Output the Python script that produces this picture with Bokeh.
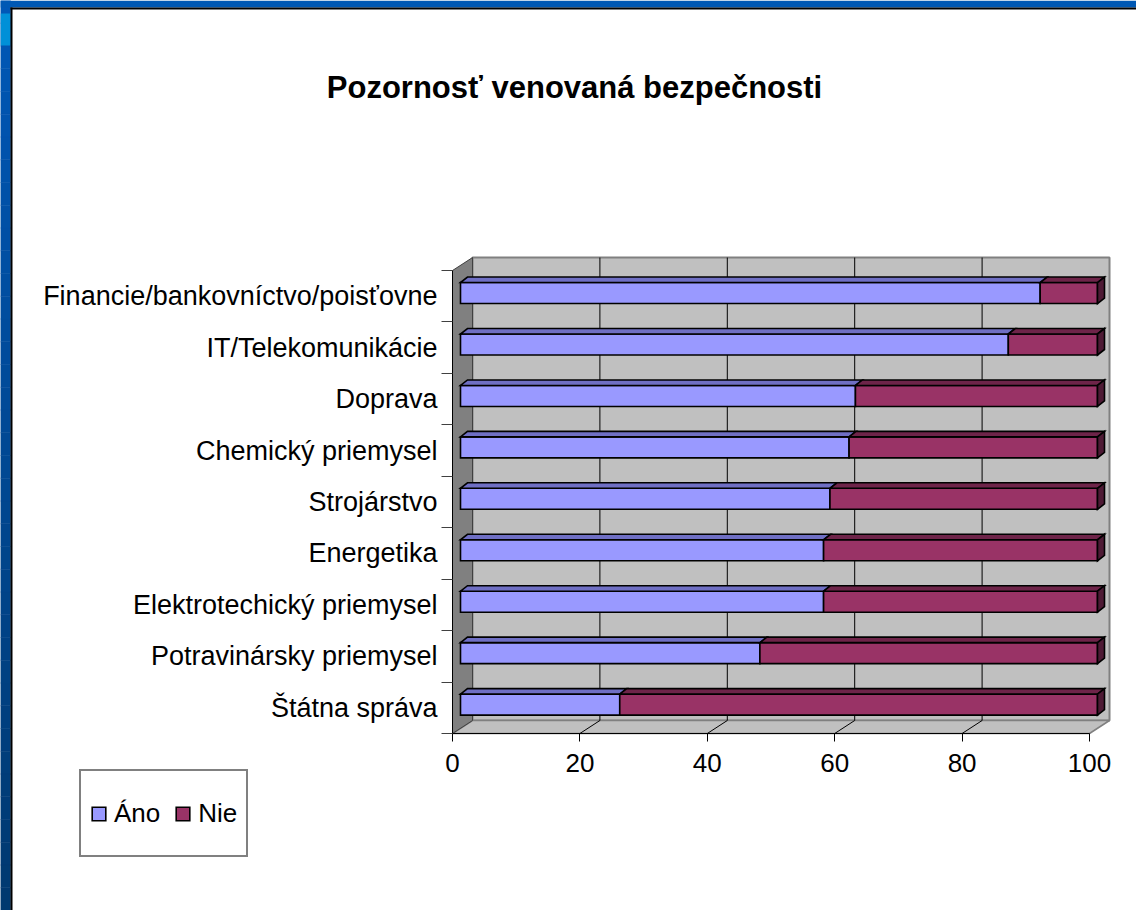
import numpy as np
from bokeh.plotting import figure
from bokeh.models import FixedTicker, Legend, LegendItem, Label
from bokeh.embed import file_html
from bokeh.resources import INLINE

# ---------------- data ----------------
categories = ["Štátna správa", "Potravinársky priemysel", "Elektrotechický priemysel",
              "Energetika", "Strojárstvo", "Chemický priemysel", "Doprava",
              "IT/Telekomunikácie", "Financie/bankovníctvo/poisťovne"]
ano = [25, 47, 57, 57, 58, 61, 62, 86, 91]
nie = [75, 53, 43, 43, 42, 39, 38, 14, 9]
series_names = ["Áno", "Nie"]
x_ticks = [0, 20, 40, 60, 80, 100]
title_text = "Pozornosť venovaná bezpečnosti"

# ---------------- styling / layout ----------------
FONT = "Liberation Sans"
W, H = 1136, 910
ORIGIN_X, ORIGIN_Y = 452, 733   # screen position of the front plane origin
PX_X = 6.37                     # px per value unit
PX_Y = 51.44                    # px per category
X_MAX = x_ticks[-1]
N = len(categories)


def X(px):
    return (px - ORIGIN_X) / PX_X


def Y(py):
    return (ORIGIN_Y - py) / PX_Y


WDX, WDY = 20 / PX_X, 13 / PX_Y          # wall depth offset
BOX, BOY = 8 / PX_X, 3.2 / PX_Y          # bar front-face offset
BDX, BDY = 7 / PX_X, 5.5 / PX_Y          # bar depth
BAR_H = 21 / PX_Y

C_ANO, C_ANO_TOP = "#9999FF", "#6F6FC4"
C_NIE, C_NIE_TOP, C_NIE_SIDE = "#993366", "#6E2449", "#4E1A35"
WALL, WALL_DARK = "#C0C0C0", "#808080"

p = figure(frame_width=W, frame_height=H,
           x_range=(X(0), X(W)), y_range=(Y(H), Y(0)),
           min_border=0, title=None,
           output_backend="svg", toolbar_location=None,
           background_fill_color="white", border_fill_color="white")
p.outline_line_color = None
p.xgrid.visible = False
p.ygrid.visible = False

# slide decoration (blue frame at left/top)
nb = 40
edges = np.linspace(0, H, nb + 1)
c0, c1 = np.array([0x00, 0x58, 0xB8]), np.array([0x00, 0x39, 0x70])
cols = ["#%02x%02x%02x" % tuple(int(v) for v in c0 + (c1 - c0) * (k + 0.5) / nb) for k in range(nb)]
p.quad(left=X(0), right=X(10), bottom=[Y(e) for e in edges[1:]], top=[Y(e) for e in edges[:-1]],
       fill_color=cols, line_color=cols, line_width=0.5)
p.quad(left=[X(0)], right=[X(W)], bottom=[Y(7)], top=[Y(0)], fill_color="#0058B4", line_color=None)
p.quad(left=[X(0)], right=[X(10)], bottom=[Y(45)], top=[Y(13)], fill_color="#0090D8", line_color=None)
p.quad(left=[X(10), X(10)], right=[X(12), X(W)], bottom=[Y(H), Y(9)], top=[Y(7), Y(7)],
       fill_color="black", line_color=None)

# back wall
p.quad(left=[WDX], right=[X_MAX + WDX], bottom=[WDY], top=[N + WDY],
       fill_color=WALL, line_color=WALL_DARK, line_width=2)
# floor
p.patch(x=[0, X_MAX, X_MAX + WDX, WDX], y=[0, 0, WDY, WDY],
        fill_color=WALL, line_color=WALL_DARK, line_width=1.5)
# side wall
p.patch(x=[0, WDX, WDX, 0], y=[0, WDY, N + WDY, N],
        fill_color=WALL_DARK, line_color="#404040", line_width=1)
# grid lines on the wall and the floor
gxs, gys = [], []
for t in x_ticks[1:-1]:
    gxs.append([t, t + WDX, t + WDX]); gys.append([0, WDY, N + WDY])
p.multi_line(xs=gxs, ys=gys, line_color="black", line_width=1)

# bars
idx = np.arange(N)
cy = idx + 0.5 + BOY
bot = cy - BAR_H / 2
top = cy + BAR_H / 2
a = np.array(ano, dtype=float)
b = np.array(nie, dtype=float)
x0 = np.full(N, BOX)
x1 = x0 + a
x2 = x1 + b

lw = 1.6
r_ano = p.quad(left=x0, right=x1, bottom=bot, top=top,
               fill_color=C_ANO, line_color="black", line_width=lw, line_join="miter")
r_nie = p.quad(left=x1, right=x2, bottom=bot, top=top,
               fill_color=C_NIE, line_color="black", line_width=lw, line_join="miter")
p.patches(xs=[[x0[i], x1[i], x1[i] + BDX, x0[i] + BDX] for i in idx],
          ys=[[top[i], top[i], top[i] + BDY, top[i] + BDY] for i in idx],
          fill_color=C_ANO_TOP, line_color="black", line_width=lw, line_join="miter")
p.patches(xs=[[x1[i], x2[i], x2[i] + BDX, x1[i] + BDX] for i in idx],
          ys=[[top[i], top[i], top[i] + BDY, top[i] + BDY] for i in idx],
          fill_color=C_NIE_TOP, line_color="black", line_width=lw, line_join="miter")
p.patches(xs=[[x2[i], x2[i] + BDX, x2[i] + BDX, x2[i]] for i in idx],
          ys=[[bot[i], bot[i] + BDY, top[i] + BDY, top[i]] for i in idx],
          fill_color=C_NIE_SIDE, line_color="black", line_width=lw, line_join="miter")

# x axis (drawn at the front plane)
xa = p.xaxis[0]
xa.fixed_location = 0
xa.ticker = FixedTicker(ticks=x_ticks)
xa.bounds = (0, X_MAX)
xa.axis_line_color = "black"
xa.axis_line_width = 1
xa.major_tick_out = 8
xa.major_tick_in = 0
xa.major_tick_line_color = "black"
xa.minor_tick_line_color = None
xa.major_label_text_font = FONT
xa.major_label_text_font_size = "26px"
xa.major_label_text_color = "black"
xa.major_label_standoff = 12

# y axis (category labels at centres, tick marks at boundaries)
ya = p.yaxis[0]
ya.fixed_location = 0
centres = [i + 0.5 for i in range(N)]
ya.ticker = FixedTicker(ticks=centres, minor_ticks=list(range(N + 1)))
overrides = {}
for c, name in zip(centres, categories):
    overrides[c] = name
    overrides[str(c)] = name
ya.major_label_overrides = overrides
ya.bounds = (0, N)
ya.axis_line_color = "black"
ya.major_tick_out = 0
ya.major_tick_in = 0
ya.major_tick_line_color = None
ya.minor_tick_out = 11
ya.minor_tick_in = 0
ya.minor_tick_line_color = "#404040"
ya.major_label_text_font = FONT
ya.major_label_text_font_size = "27px"
ya.major_label_text_color = "black"
ya.major_label_standoff = 4

# title
p.add_layout(Label(x=X(574), y=Y(87), text=title_text,
                   text_align="center", text_baseline="middle",
                   text_font=FONT, text_font_size="31px", text_font_style="bold",
                   text_color="black"))

# legend
legend = Legend(items=[LegendItem(label=series_names[0], renderers=[r_ano]),
                       LegendItem(label=series_names[1], renderers=[r_nie])],
                orientation="horizontal", location=(79, H - 857),
                border_line_color=WALL_DARK, border_line_width=2, border_line_alpha=1,
                background_fill_color="white", background_fill_alpha=1,
                label_text_font=FONT, label_text_font_size="26px", label_text_color="black",
                glyph_width=17, glyph_height=17, label_standoff=7,
                spacing=14, padding=9, margin=0, label_height=66)
p.add_layout(legend, "center")

open("out.html", "w").write(file_html(p, INLINE))
